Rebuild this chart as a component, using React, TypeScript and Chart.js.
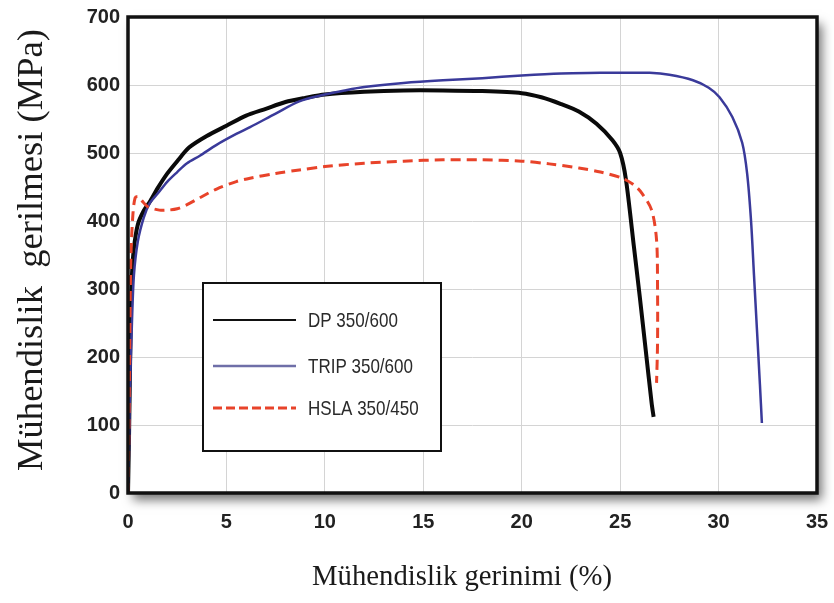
import React, { useEffect, useRef } from "react";
import { Chart, registerables } from "chart.js";

Chart.register(...registerables);

const xTicks = [0, 5, 10, 15, 20, 25, 30, 35];
const yTicks = [0, 100, 200, 300, 400, 500, 600, 700];

const seriesNames = ["DP 350/600", "TRIP 350/600", "HSLA 350/450"];

const dpStrain = [0, 0.05, 0.1, 0.15, 0.2, 0.3, 0.5, 0.8, 1.1, 1.5, 2, 2.5, 3.1, 4, 5, 6, 7, 8, 9, 10, 12, 14, 16, 18, 20, 21, 22, 22.9, 23.8, 24.6, 25, 25.3, 25.7, 26, 26.3, 26.6, 26.7];
const dpStress = [0, 80, 180, 270, 320, 360, 395, 415, 428, 448, 470, 488, 508, 525, 540, 555, 565, 575, 581, 586, 590, 592, 592, 591, 588, 582, 572, 561, 543, 519, 500, 460, 362, 288, 210, 132, 112];

const tripStrain = [0, 0.05, 0.1, 0.2, 0.3, 0.5, 0.8, 1.1, 1.5, 2, 2.5, 3, 3.65, 4.5, 5.5, 6.2, 7.5, 8.7, 10, 11, 12, 14, 16, 18, 20, 22, 24, 25.5, 26.5, 27.5, 28.7, 29.5, 30.05, 30.7, 31.2, 31.45, 31.65, 31.8, 31.95, 32.1, 32.2];
const tripStress = [0, 60, 150, 250, 320, 370, 405, 426, 440, 458, 472, 485, 496, 512, 528, 538, 558, 576, 586, 592, 597, 603, 607, 610, 614, 617, 618, 618, 618, 615, 607, 596, 582, 553, 515, 470, 400, 320, 240, 160, 103];

const hslaStrain = [0, 0.05, 0.1, 0.15, 0.25, 0.36, 0.5, 0.7, 1.0, 1.6, 2, 2.5, 3, 3.7, 4.5, 5.5, 6.2, 7.5, 8.7, 10, 12, 14, 16, 18, 20, 21.4, 22.9, 24, 25.1, 25.7, 26.1, 26.6, 26.85, 26.9, 26.9, 26.85];
const hslaStress = [0, 100, 250, 350, 410, 434, 436, 430, 421, 416, 416, 418, 424, 435, 447, 458, 463, 470, 475, 480, 485, 488, 490, 490, 488, 484, 478, 472, 463, 453, 441, 416, 372, 300, 220, 162];

const xTitle = "Mühendislik gerinimi (%)";
const yTitle = "Mühendislik  gerilmesi (MPa)";

const toPoints = (xs: number[], ys: number[]) => xs.map((x, i) => ({ x, y: ys[i] }));

export default function App() {
  const ref = useRef<HTMLCanvasElement | null>(null);

  useEffect(() => {
    const canvas = ref.current;
    if (!canvas) return;

    const framePlugin = {
      id: "frame",
      beforeDraw(chart: any) {
        const { ctx, chartArea: a } = chart;
        ctx.save();
        ctx.fillStyle = "#ffffff";
        ctx.shadowColor = "rgba(0,0,0,0.55)";
        ctx.shadowBlur = 10;
        ctx.shadowOffsetX = 5;
        ctx.shadowOffsetY = 7;
        ctx.fillRect(a.left, a.top, a.right - a.left, a.bottom - a.top);
        ctx.restore();
      },
      afterDatasetsDraw(chart: any) {
        const { ctx, chartArea: a } = chart;
        ctx.save();
        ctx.strokeStyle = "#111111";
        ctx.lineWidth = 3.5;
        ctx.strokeRect(a.left, a.top, a.right - a.left, a.bottom - a.top);
        ctx.restore();
      },
    };

    const fitText = (ctx: CanvasRenderingContext2D, text: string, target: number, family: string) => {
      ctx.font = `40px ${family}`;
      const w = ctx.measureText(text).width;
      return (40 * target) / w;
    };

    const titlePlugin = {
      id: "titles",
      afterDraw(chart: any) {
        const { ctx } = chart;
        const fam = "'Liberation Serif', 'Times New Roman', serif";
        ctx.save();
        ctx.fillStyle = "#1a1a1a";
        ctx.textAlign = "center";
        ctx.textBaseline = "alphabetic";
        const fx = fitText(ctx, xTitle, 300, fam);
        ctx.font = `${fx}px ${fam}`;
        ctx.fillText(xTitle, 462, 585);
        const fy = fitText(ctx, yTitle, 442, fam);
        ctx.font = `${fy}px ${fam}`;
        ctx.translate(42, 250);
        ctx.rotate(-Math.PI / 2);
        ctx.fillText(yTitle, 0, 0);
        ctx.restore();
      },
    };

    const legendPlugin = {
      id: "customLegend",
      afterDatasetsDraw(chart: any) {
        const { ctx } = chart;
        const box = { l: 203, t: 283, r: 441, b: 451 };
        ctx.save();
        ctx.fillStyle = "#ffffff";
        ctx.fillRect(box.l, box.t, box.r - box.l, box.b - box.t);
        ctx.strokeStyle = "#111111";
        ctx.lineWidth = 2;
        ctx.strokeRect(box.l, box.t, box.r - box.l, box.b - box.t);
        const rows = [320, 366, 408];
        const styles = [
          { c: "#111111", w: 2, d: [] as number[] },
          { c: "#6f6fa8", w: 2.5, d: [] as number[] },
          { c: "#e8432a", w: 3, d: [9, 4] },
        ];
        ctx.textBaseline = "middle";
        ctx.textAlign = "left";
        rows.forEach((y, i) => {
          const s = styles[i];
          ctx.beginPath();
          ctx.strokeStyle = s.c;
          ctx.lineWidth = s.w;
          ctx.setLineDash(s.d);
          ctx.moveTo(213, y);
          ctx.lineTo(296, y);
          ctx.stroke();
          ctx.setLineDash([]);
          ctx.fillStyle = "#2a2a2a";
          ctx.save();
          ctx.translate(308, y + 1);
          ctx.scale(0.81, 1);
          ctx.font = "21px 'Liberation Sans Narrow', 'Arial Narrow', 'Liberation Sans', sans-serif";
          ctx.fillText(seriesNames[i], 0, 0);
          ctx.restore();
        });
        ctx.restore();
      },
    };

    const tickFont = { family: "'Liberation Sans', Arial, sans-serif", size: 20, weight: "bold" };

    const chart = new Chart(canvas, {
      type: "line",
      data: {
        datasets: [
          {
            label: seriesNames[2],
            data: toPoints(hslaStrain, hslaStress),
            borderColor: "#e8432a",
            borderWidth: 3,
            borderDash: [10, 6],
            pointRadius: 0,
            tension: 0.3,
            fill: false,
          },
          {
            label: seriesNames[1],
            data: toPoints(tripStrain, tripStress),
            borderColor: "#3a3a9a",
            borderWidth: 2.5,
            pointRadius: 0,
            tension: 0.3,
            fill: false,
          },
          {
            label: seriesNames[0],
            data: toPoints(dpStrain, dpStress),
            borderColor: "#0a0a0a",
            borderWidth: 4,
            pointRadius: 0,
            tension: 0.25,
            fill: false,
          },
        ],
      },
      options: {
        animation: false,
        responsive: false,
        events: [],
        layout: { padding: { top: 17, right: 17, left: 0, bottom: 0 } },
        plugins: { legend: { display: false }, tooltip: { enabled: false }, title: { display: false } },
        scales: {
          x: {
            type: "linear",
            min: 0,
            max: 35,
            afterFit(scale: any) {
              scale.height = 110;
              scale.paddingLeft = 0;
              scale.paddingRight = 0;
            },
            afterBuildTicks(scale: any) {
              scale.ticks = xTicks.map((v) => ({ value: v }));
            },
            grid: { color: "#d4d4d4", lineWidth: 1, drawTicks: false },
            border: { display: false },
            ticks: { padding: 17, color: "#222222", font: tickFont },
          },
          y: {
            type: "linear",
            min: 0,
            max: 700,
            afterFit(scale: any) {
              scale.width = 128;
              scale.paddingTop = 0;
              scale.paddingBottom = 0;
            },
            afterBuildTicks(scale: any) {
              scale.ticks = yTicks.map((v) => ({ value: v }));
            },
            grid: { color: "#d4d4d4", lineWidth: 1, drawTicks: false },
            border: { display: false },
            ticks: { padding: 8, color: "#222222", font: tickFont },
          },
        },
      } as any,
      plugins: [framePlugin, legendPlugin, titlePlugin],
    });

    return () => chart.destroy();
  }, []);

  return (
    <div style={{ position: "fixed", left: 0, top: 0, width: 834, height: 603, background: "#fff" }}>
      <canvas ref={ref} width={834} height={603} style={{ display: "block" }} />
    </div>
  );
}
